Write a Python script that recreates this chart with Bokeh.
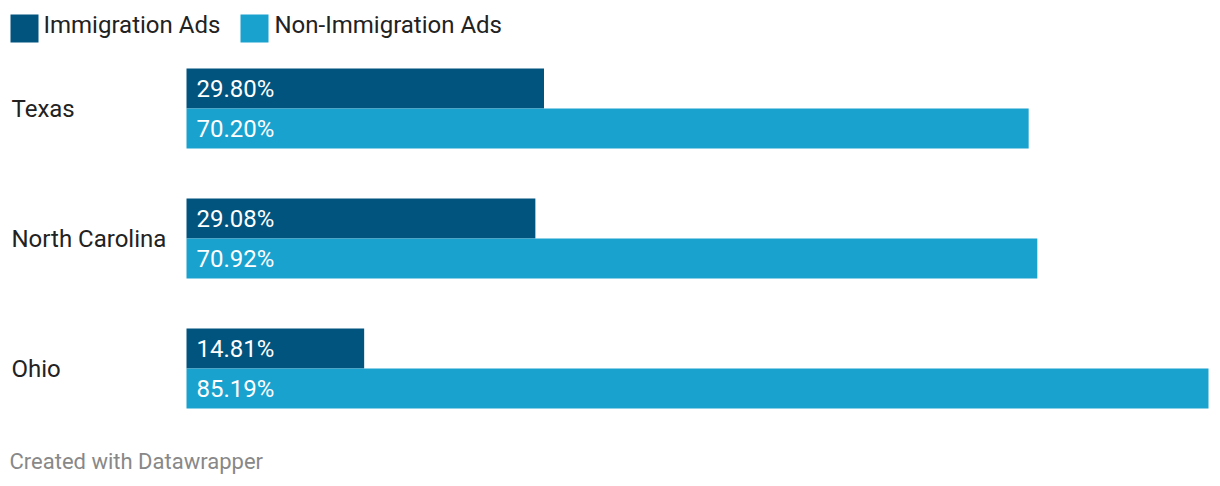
from bokeh.plotting import figure
from bokeh.models import FactorRange, Range1d, Label, BoxAnnotation, ColumnDataSource
from bokeh.core.properties import value
from bokeh.embed import file_html
from bokeh.resources import INLINE

states = ["Texas", "North Carolina", "Ohio"]
series = ["Immigration Ads", "Non-Immigration Ads"]
immigration = [29.80, 29.08, 14.81]
non_immigration = [70.20, 70.92, 85.19]
colors = ["#01547e", "#1aa2cf"]
footer = "Created with Datawrapper"

H = 476
# factors listed bottom-up so Texas ends at the top
factors = []
for s in reversed(states):
    factors.append((s, series[1]))
    factors.append((s, series[0]))

p = figure(width=1212, height=H, output_backend="svg", toolbar_location=None,
           x_axis_type=None, y_axis_type=None,
           y_range=FactorRange(factors=factors, group_padding=1.25, range_padding=1.7,
                               range_padding_units="absolute"),
           x_range=Range1d(-15.5043, 85.5237),
           min_border=0)
p.outline_line_color = None
p.background_fill_color = "white"
p.border_fill_color = "white"

for k, vals in enumerate([immigration, non_immigration]):
    src = ColumnDataSource(dict(
        y=[(s, series[k]) for s in states],
        right=vals,
        lab=[f"{v:.2f}%" for v in vals],
    ))
    p.hbar(y="y", left=0, right="right", height=1.0, source=src,
           fill_color=colors[k], line_color=None)
    p.text(x=0, y="y", text="lab", source=src, x_offset=10, text_baseline="middle",
           text_align="left", text_color="white", text_font=value("Roboto"),
           text_font_size="24px")

p.text(x=[0] * len(states), y=states, text=states, x_offset=-175, text_baseline="middle",
       text_align="left", text_color="#222222", text_font=value("Roboto"),
       text_font_size="24px")

# legend: swatches + labels
sw_left = [10, 240]
lab_x = [43, 274]
for k in range(2):
    p.add_layout(BoxAnnotation(left=sw_left[k], right=sw_left[k] + 28, top=H - 14, bottom=H - 42,
                               left_units="screen", right_units="screen",
                               top_units="screen", bottom_units="screen",
                               fill_color=colors[k], fill_alpha=1.0, line_color=None))
    p.add_layout(Label(x=lab_x[k], y=H - 24, x_units="screen", y_units="screen",
                       text=series[k], text_font="Roboto", text_font_size="24px",
                       text_color="#222222", text_baseline="middle", text_align="left"))

p.add_layout(Label(x=9, y=H - 460.5, x_units="screen", y_units="screen", text=footer,
                   text_font="Roboto", text_font_size="22px", text_color="#888888",
                   text_baseline="middle", text_align="left"))

open("out.html", "w").write(file_html(p, INLINE))
